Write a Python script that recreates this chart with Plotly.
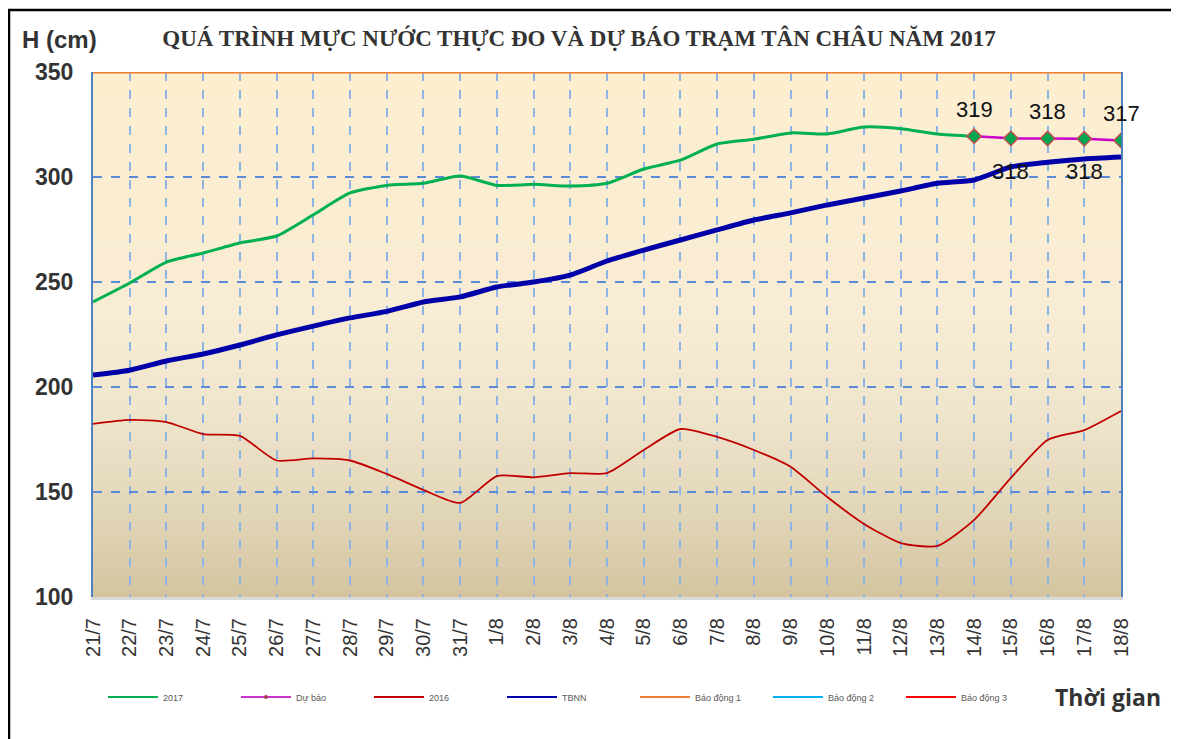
import plotly.graph_objects as go

categories = ["21/7", "22/7", "23/7", "24/7", "25/7", "26/7", "27/7", "28/7", "29/7", "30/7",
              "31/7", "1/8", "2/8", "3/8", "4/8", "5/8", "6/8", "7/8", "8/8", "9/8",
              "10/8", "11/8", "12/8", "13/8", "14/8", "15/8", "16/8", "17/8", "18/8"]

h_2017 = [240.5, 249.5, 259.5, 263.8, 268.6, 271.9, 282.0, 292.4, 296.0, 297.0,
          300.5, 296.0, 296.5, 295.7, 297.0, 303.8, 308.0, 315.7, 318.0, 321.0,
          320.5, 323.8, 323.0, 320.5, 319.4]

forecast_cats = ["14/8", "15/8", "16/8", "17/8", "18/8"]
forecast = [319.4, 318.4, 318.3, 318.2, 317.4]
forecast_labels = ["319", "318", "318", "318", "317"]
label_above = [True, False, True, False, True]

h_2016 = [182.4, 184.3, 183.3, 177.6, 176.7, 165.0, 166.0, 165.0, 158.6, 151.0,
          144.8, 157.6, 157.0, 159.0, 159.0, 170.0, 180.0, 176.2, 170.0, 162.0,
          147.6, 134.8, 125.7, 124.3, 136.7, 156.7, 174.8, 179.5, 188.6]

tbnn = [205.7, 208.0, 212.4, 215.7, 220.0, 224.8, 229.0, 232.9, 236.0, 240.5,
        242.9, 247.6, 250.0, 253.3, 260.0, 265.2, 270.0, 274.8, 279.5, 282.9,
        286.7, 290.0, 293.3, 297.0, 298.6, 304.8, 307.0, 308.6, 309.5]

bao_dong_1 = 350
bao_dong_2 = 400
bao_dong_3 = 450

y_ticks = [100, 150, 200, 250, 300, 350]

legend_names = ["2017", "Dự báo", "2016", "TBNN", "Báo động 1", "Báo động 2", "Báo động 3"]
legend_colors = ["#00B050", "#CC33CC", "#C00000", "#0000A8", "#ED7D31", "#00B0F0", "#FF0000"]

fig = go.Figure()

fig.add_trace(go.Scatter(x=categories[:len(h_2017)], y=h_2017, name="2017", mode="lines",
                         showlegend=False,
                         line=dict(color="#00B050", width=3, shape="spline", smoothing=0.6)))
fig.add_trace(go.Scatter(x=categories, y=h_2016, name="2016", mode="lines", showlegend=False,
                         line=dict(color="#C00000", width=1.8, shape="spline", smoothing=0.6)))
fig.add_trace(go.Scatter(x=categories, y=tbnn, name="TBNN", mode="lines", showlegend=False,
                         line=dict(color="#0000A8", width=5, shape="spline", smoothing=0.6)))
fig.add_trace(go.Scatter(x=categories, y=[bao_dong_1] * len(categories), name="Báo động 1",
                         mode="lines", showlegend=False, line=dict(color="#ED7D31", width=3)))
fig.add_trace(go.Scatter(x=categories, y=[bao_dong_2] * len(categories), name="Báo động 2",
                         mode="lines", showlegend=False, line=dict(color="#00B0F0", width=2)))
fig.add_trace(go.Scatter(x=categories, y=[bao_dong_3] * len(categories), name="Báo động 3",
                         mode="lines", showlegend=False, line=dict(color="#FF0000", width=2)))
fig.add_trace(go.Scatter(x=forecast_cats, y=forecast, name="Dự báo", mode="lines+markers",
                         showlegend=False,
                         line=dict(color="#CC00CC", width=2.5),
                         marker=dict(symbol="diamond", size=11, color="#00A651",
                                     line=dict(color="#C0504D", width=1.5))))

# legend-only entries (thin sample lines like the original)
for nm, col in zip(legend_names, legend_colors):
    if nm == "Dự báo":
        fig.add_trace(go.Scatter(x=[None], y=[None], name=nm, mode="lines+markers",
                                 line=dict(color=col, width=2),
                                 marker=dict(size=4, color="#A0404D")))
    else:
        fig.add_trace(go.Scatter(x=[None], y=[None], name=nm, mode="lines",
                                 line=dict(color=col, width=2)))

# forecast labels
for c, v, t, up in zip(forecast_cats, forecast, forecast_labels, label_above):
    fig.add_annotation(x=c, y=v, text=t, showarrow=False, yshift=27 if up else -33,
                       font=dict(family="Arial", size=22, color="#111111"))

# background gradient bands
stops = [(0.0, (253, 238, 207)), (0.45, (248, 236, 212)), (0.65, (239, 229, 205)),
         (0.85, (225, 213, 183)), (1.0, (212, 197, 160))]
n_bands = 70
shapes = []
for i in range(n_bands):
    f = (i + 0.5) / n_bands
    for j in range(len(stops) - 1):
        if stops[j][0] <= f <= stops[j + 1][0]:
            a, ca = stops[j]
            b, cb = stops[j + 1]
            t = (f - a) / (b - a)
            col = tuple(int(round(ca[k] + (cb[k] - ca[k]) * t)) for k in range(3))
            break
    shapes.append(dict(type="rect", xref="x domain", yref="y domain", x0=0, x1=1,
                       y0=1 - (i + 1) / n_bands - 0.001, y1=1 - i / n_bands,
                       fillcolor="rgb(%d,%d,%d)" % col, line=dict(width=0), layer="below"))
# outer border
shapes.append(dict(type="rect", xref="paper", yref="paper", x0=-0.0817, x1=1.0525,
                   y0=-0.30, y1=1.118, line=dict(color="black", width=2.5),
                   fillcolor="rgba(0,0,0,0)", layer="above"))

fig.update_layout(
    width=1171, height=731,
    margin=dict(l=85, r=58, t=64, b=142),
    paper_bgcolor="white",
    plot_bgcolor="rgba(0,0,0,0)",
    shapes=shapes,
    showlegend=True,
    legend=dict(orientation="h", x=0.0097, y=-0.1905, xanchor="left", yanchor="middle",
                font=dict(family="Arial", size=9, color="#595959"),
                entrywidth=68, entrywidthmode="pixels", itemwidth=50,
                bgcolor="rgba(0,0,0,0)", tracegroupgap=0),
    title=dict(text="<b>QUÁ TRÌNH MỰC NƯỚC THỰC ĐO VÀ DỰ BÁO TRẠM TÂN CHÂU NĂM 2017</b>",
               x=0.4728, xref="paper", xanchor="center", yref="container", y=0.959, yanchor="middle",
               font=dict(family="Liberation Serif", size=23, color="#333333")),
    xaxis=dict(type="category", categoryorder="array", categoryarray=categories,
               range=[0, len(categories) - 1], tickangle=-90,
               tickfont=dict(family="Arial", size=20, color="#333333"),
               ticks="", ticklabelstandoff=10,
               showgrid=True, gridcolor="#8DB4E2", gridwidth=2, griddash="dash",
               showline=True, linecolor="#D9D9D9", linewidth=3, zeroline=False),
    yaxis=dict(range=[100, 350], tickvals=y_ticks,
               tickfont=dict(family="Arial", size=23, color="#333333", weight="bold"),
               ticks="", ticklabelstandoff=13,
               showgrid=True, gridcolor="#5B8BD6", gridwidth=1.5, griddash="dash",
               showline=True, linecolor="#4F81BD", linewidth=2, mirror=True, zeroline=False),
)

fig.add_annotation(xref="paper", yref="paper", x=-0.071, y=1.061, xanchor="left", yanchor="middle",
                   text="<b>H (cm)</b>", showarrow=False,
                   font=dict(family="Arial", size=24, color="#333333"))
fig.add_annotation(xref="paper", yref="paper", x=1.0409, y=-0.1905, xanchor="right", yanchor="middle",
                   text="<b>Thời gian</b>", showarrow=False,
                   font=dict(family="Open Sans", size=23, color="#333333"))

fig.write_html("out.html")
